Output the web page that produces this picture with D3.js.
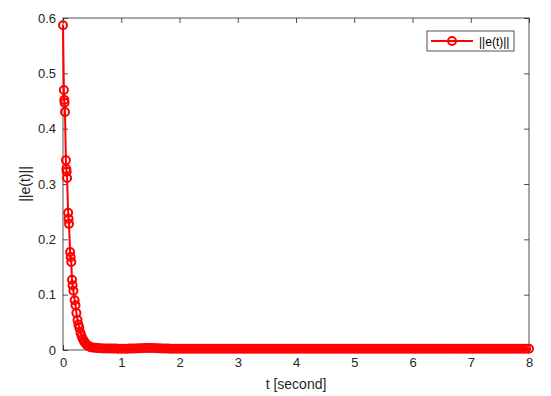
<!DOCTYPE html>
<html>
<head>
<meta charset="utf-8">
<script src="https://cdn.jsdelivr.net/npm/d3@7"></script>
<style>
  body { margin: 0; background: #fff; }
  svg { display: block; font-family: "Liberation Sans", Arial, sans-serif; }
</style>
</head>
<body>
<div id="chart"></div>
<script>
// time samples (solver steps) and error norm
var tValues = [
  0, 0.015, 0.022, 0.027, 0.034, 0.05, 0.058, 0.063, 0.07, 0.088,
  0.096, 0.103, 0.122, 0.132, 0.142, 0.155, 0.165, 0.178, 0.2, 0.215,
  0.23, 0.25, 0.265, 0.28, 0.3, 0.32, 0.34, 0.36, 0.38, 0.4,
  0.42, 0.44, 0.46, 0.48,
  0.50,0.55,0.60,0.65,0.70,0.75,0.80,0.85,0.90,0.95,
  1.00,1.05,1.10,1.15,1.20,1.25,1.30,1.35,1.40,1.45,
  1.50,1.55,1.60,1.65,1.70,1.75,1.80,1.85,1.90,1.95,
  2.00,2.05,2.10,2.15,2.20,2.25,2.30,2.35,2.40,2.45,
  2.50,2.55,2.60,2.65,2.70,2.75,2.80,2.85,2.90,2.95,
  3.00,3.05,3.10,3.15,3.20,3.25,3.30,3.35,3.40,3.45,
  3.50,3.55,3.60,3.65,3.70,3.75,3.80,3.85,3.90,3.95,
  4.00,4.05,4.10,4.15,4.20,4.25,4.30,4.35,4.40,4.45,
  4.50,4.55,4.60,4.65,4.70,4.75,4.80,4.85,4.90,4.95,
  5.00,5.05,5.10,5.15,5.20,5.25,5.30,5.35,5.40,5.45,
  5.50,5.55,5.60,5.65,5.70,5.75,5.80,5.85,5.90,5.95,
  6.00,6.05,6.10,6.15,6.20,6.25,6.30,6.35,6.40,6.45,
  6.50,6.55,6.60,6.65,6.70,6.75,6.80,6.85,6.90,6.95,
  7.00,7.05,7.10,7.15,7.20,7.25,7.30,7.35,7.40,7.45,
  7.50,7.55,7.60,7.65,7.70,7.75,7.80,7.85,7.90,7.95,
  8.00
];
var eValues = [
  0.587, 0.47, 0.452, 0.447, 0.43, 0.343, 0.327, 0.322, 0.311, 0.248,
  0.237, 0.228, 0.177, 0.168, 0.159, 0.127, 0.117, 0.107, 0.09, 0.081,
  0.067, 0.054, 0.046, 0.04, 0.031, 0.025, 0.02, 0.016, 0.013, 0.010,
  0.008, 0.007, 0.006, 0.005,
  0.0045,0.0039,0.0034,0.0031,0.0029,0.0027,0.0026,0.0025,0.0025,0.0024,
  0.0024,0.0024,0.0024,0.0025,0.0026,0.0028,0.0030,0.0033,0.0035,0.0036,
  0.0036,0.0035,0.0033,0.0030,0.0028,0.0026,0.0025,0.0024,0.0024,0.0024,
  0.0024,0.0024,0.0024,0.0024,0.0024,0.0024,0.0024,0.0024,0.0024,0.0024,
  0.0024,0.0024,0.0024,0.0024,0.0024,0.0024,0.0024,0.0023,0.0023,0.0023,
  0.0023,0.0023,0.0023,0.0023,0.0023,0.0023,0.0023,0.0023,0.0023,0.0023,
  0.0023,0.0023,0.0023,0.0023,0.0023,0.0023,0.0023,0.0023,0.0023,0.0023,
  0.0023,0.0023,0.0023,0.0023,0.0023,0.0023,0.0023,0.0023,0.0023,0.0023,
  0.0023,0.0023,0.0023,0.0023,0.0023,0.0023,0.0023,0.0023,0.0023,0.0023,
  0.0023,0.0023,0.0023,0.0023,0.0023,0.0022,0.0022,0.0022,0.0022,0.0022,
  0.0022,0.0022,0.0022,0.0022,0.0022,0.0022,0.0022,0.0022,0.0022,0.0022,
  0.0022,0.0022,0.0022,0.0022,0.0022,0.0022,0.0022,0.0022,0.0022,0.0022,
  0.0022,0.0022,0.0022,0.0022,0.0022,0.0022,0.0022,0.0022,0.0022,0.0022,
  0.0022,0.0022,0.0022,0.0022,0.0022,0.0022,0.0022,0.0022,0.0022,0.0022,
  0.0022,0.0022,0.0022,0.0022,0.0022,0.0022,0.0022,0.0022,0.0022,0.0022,
  0.0022
];
var xTicks = [0, 1, 2, 3, 4, 5, 6, 7, 8];
var yTicks = [0, 0.1, 0.2, 0.3, 0.4, 0.5, 0.6];
var seriesName = "||e(t)||";

var width = 551, height = 396;
var mLeft = 63, mRight = 529, mTop = 18, mBottom = 350;
var axisColor = "#262626";
var red = "#ff0000";
var markR = 4, markW = 2;

var svg = d3.select("#chart").append("svg")
  .attr("width", width)
  .attr("height", height);

var x = d3.scaleLinear().domain([0, 8]).range([mLeft, mRight]);
var y = d3.scaleLinear().domain([0, 0.6]).range([mBottom, mTop]);

// axes, ticks pointing inward
function styleAxis(g) {
  g.select(".domain").remove();
  g.selectAll(".tick line").attr("stroke", axisColor).attr("stroke-width", 0.8);
  g.selectAll(".tick text").attr("fill", axisColor).style("font-size", "13px");
}
svg.append("g")
  .attr("transform", "translate(0," + mBottom + ")")
  .call(d3.axisBottom(x).tickValues(xTicks).tickSizeInner(-5).tickSizeOuter(0).tickPadding(8).tickFormat(d3.format("d")))
  .call(styleAxis);
svg.append("g")
  .attr("transform", "translate(0," + mTop + ")")
  .call(d3.axisTop(x).tickValues(xTicks).tickSizeInner(-5).tickSizeOuter(0).tickFormat(""))
  .call(styleAxis);
svg.append("g")
  .attr("transform", "translate(" + mLeft + ",0)")
  .call(d3.axisLeft(y).tickValues(yTicks).tickSizeInner(-5).tickSizeOuter(0).tickPadding(7).tickFormat(function(d) { return d === 0 ? "0" : d3.format(".1f")(d); }))
  .call(styleAxis);
svg.append("g")
  .attr("transform", "translate(" + mRight + ",0)")
  .call(d3.axisRight(y).tickValues(yTicks).tickSizeInner(-5).tickSizeOuter(0).tickFormat(""))
  .call(styleAxis);

svg.append("rect")
  .attr("x", mLeft).attr("y", mTop)
  .attr("width", mRight - mLeft).attr("height", mBottom - mTop)
  .attr("fill", "none").attr("stroke", axisColor).attr("stroke-width", 0.8);

// labels
svg.append("text")
  .attr("x", (mLeft + mRight) / 2).attr("y", 389)
  .attr("text-anchor", "middle").attr("fill", axisColor)
  .style("font-size", "14px")
  .text("t [second]");
svg.append("text")
  .attr("transform", "translate(30," + (mTop + mBottom) / 2 + ") rotate(-90)")
  .attr("text-anchor", "middle").attr("fill", axisColor)
  .style("font-size", "14px")
  .text(seriesName);

// series
var pts = tValues.map(function(t, i) { return [t, eValues[i]]; });
var line = d3.line().x(function(d) { return x(d[0]); }).y(function(d) { return y(d[1]); });
svg.append("path")
  .datum(pts)
  .attr("d", line)
  .attr("fill", "none").attr("stroke", red).attr("stroke-width", markW);
svg.append("g").selectAll("circle")
  .data(pts)
  .enter().append("circle")
  .attr("cx", function(d) { return x(d[0]); })
  .attr("cy", function(d) { return y(d[1]); })
  .attr("r", markR)
  .attr("fill", "none").attr("stroke", red).attr("stroke-width", markW);

// legend
var lg = svg.append("g").attr("transform", "translate(427,31)");
lg.append("rect").attr("width", 87).attr("height", 20)
  .attr("fill", "#fff").attr("stroke", axisColor).attr("stroke-width", 0.8);
lg.append("line").attr("x1", 4).attr("x2", 46).attr("y1", 10).attr("y2", 10)
  .attr("stroke", red).attr("stroke-width", markW);
lg.append("circle").attr("cx", 25).attr("cy", 10).attr("r", markR)
  .attr("fill", "none").attr("stroke", red).attr("stroke-width", markW);
lg.append("text").attr("x", 52).attr("y", 14.5)
  .attr("fill", "#000").style("font-size", "12px")
  .text(seriesName);
</script>
</body>
</html>
